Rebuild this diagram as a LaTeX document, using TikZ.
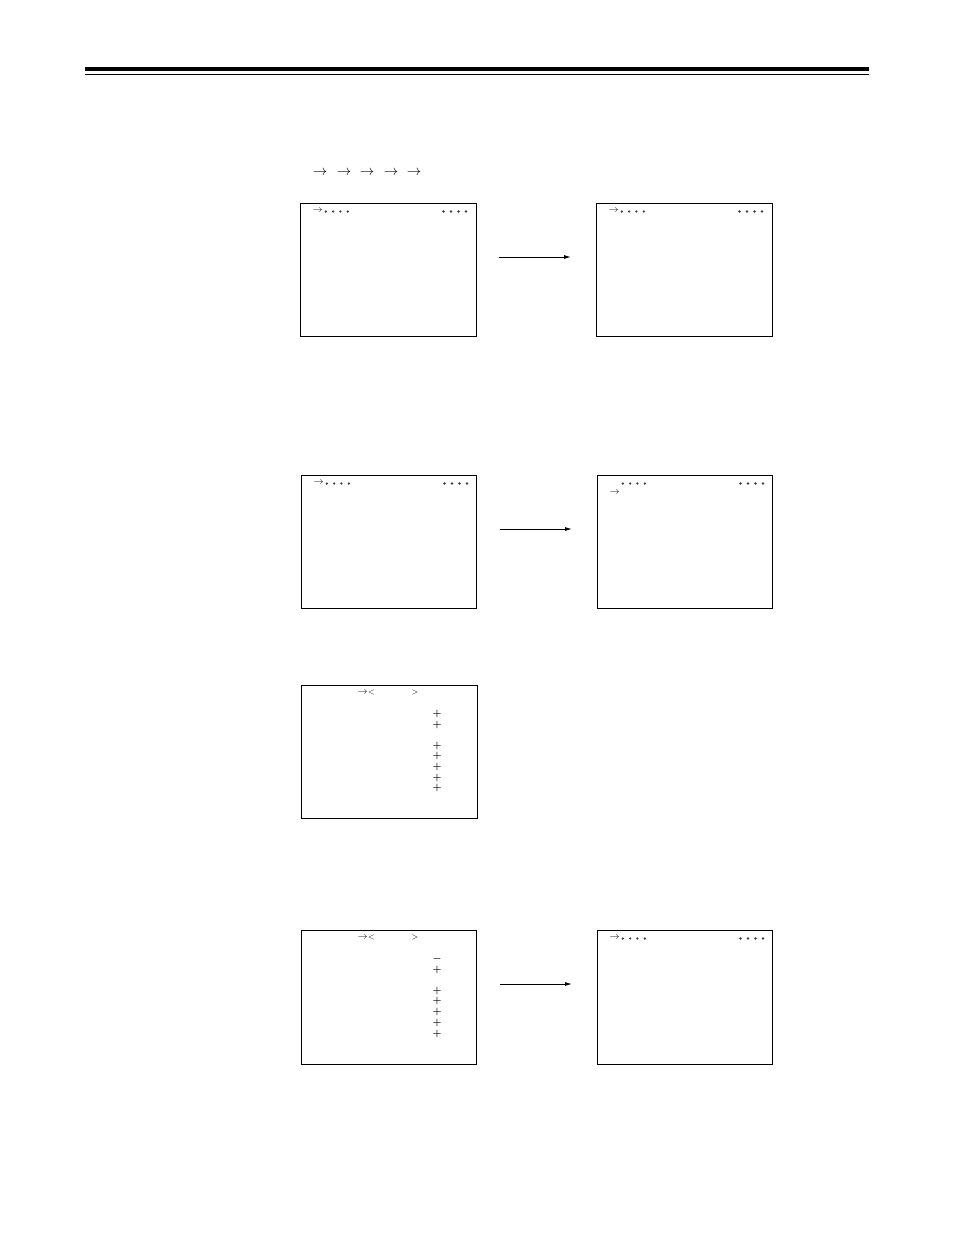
\documentclass[tikz,border=0pt]{standalone}
\usetikzlibrary{arrows.meta}
\begin{document}
\begin{tikzpicture}[x=1pt,y=-1pt,
  screen/.style={draw,line width=1pt},
  flow/.style={line width=0.9pt,-{Latex[length=7pt,width=4pt]}},
  dot/.style={circle,fill=black!75,inner sep=0pt,minimum size=2.6pt},
  glyph/.style={inner sep=0pt,font=\fontsize{10}{10}\selectfont},
  sign/.style={inner sep=0pt,font=\fontsize{10}{10}\selectfont\boldmath},
  bigarr/.style={inner sep=0pt,font=\fontsize{14}{14}\selectfont}]
\useasboundingbox (0,0) rectangle (954,1235);
% header rules
\draw[line width=3.2pt] (85,69) -- (869,69);
\draw[line width=1.2pt] (85,74.5) -- (869,74.5);
% top row of arrows
\foreach \i/\x in {1/320,2/344,3/367,4/391,5/414}
  \node[bigarr] (ta\i) at (\x,173) {$\rightarrow$};
% screens
\draw[screen] (300,203) rectangle (476,336);
\draw[screen] (596,203) rectangle (772,336);
\draw[screen] (301,475) rectangle (476,608);
\draw[screen] (597,475) rectangle (772,608);
\draw[screen] (301,685) rectangle (477,818);
\draw[screen] (301,930) rectangle (476,1064);
\draw[screen] (597,930) rectangle (772,1064);
% cursor + dots line (left and right dots)
\foreach \ox/\oy/\cur in {0/0/1,296/0/1,1/272/1,297/272/0,297/727/1}{
  \ifnum\cur=1
    \node[glyph] at (317.5+\ox,210.5+\oy) {$\rightarrow$};
  \fi
  \foreach \d in {0,7.3,14.6,22}
    \node[dot] at (325.8+\ox+\d,211.5+\oy) {};
  \foreach \d in {0,7.5,15,22.5}
    \node[dot] at (443.5+\ox+\d,211.5+\oy) {};
}
% cursor on second line of screen 4
\node[glyph] (c4) at (614.5,492.5) {$\rightarrow$};
% screens 5 and 6: menu lines
\foreach \oy in {0,245}{
  \node[glyph] at (362.5,692.5+\oy) {$\rightarrow$};
  \node[glyph,font=\fontsize{8}{8}\selectfont] at (371.5,692.5+\oy) {$<$};
  \node[glyph,font=\fontsize{8}{8}\selectfont] at (415,692.5+\oy) {$>$};
}
\foreach \y in {713.5,724.5,745.5,756,766.5,777.5,788}
  \node[sign] at (437,\y) {$+$};
\node[sign] at (437,958.5) {$-$};
\foreach \y in {969.5,990.5,1001,1012,1022.5,1033.5}
  \node[sign] at (437,\y) {$+$};
% flow arrows between screens
\coordinate (a1s) at (499,257); \coordinate (a1e) at (571,257);
\coordinate (a2s) at (500,529); \coordinate (a2e) at (572,529);
\coordinate (a3s) at (500,984); \coordinate (a3e) at (572,984);
\draw[flow] (a1s) -- (a1e);
\draw[flow] (a2s) -- (a2e);
\draw[flow] (a3s) -- (a3e);
\end{tikzpicture}
\end{document}
